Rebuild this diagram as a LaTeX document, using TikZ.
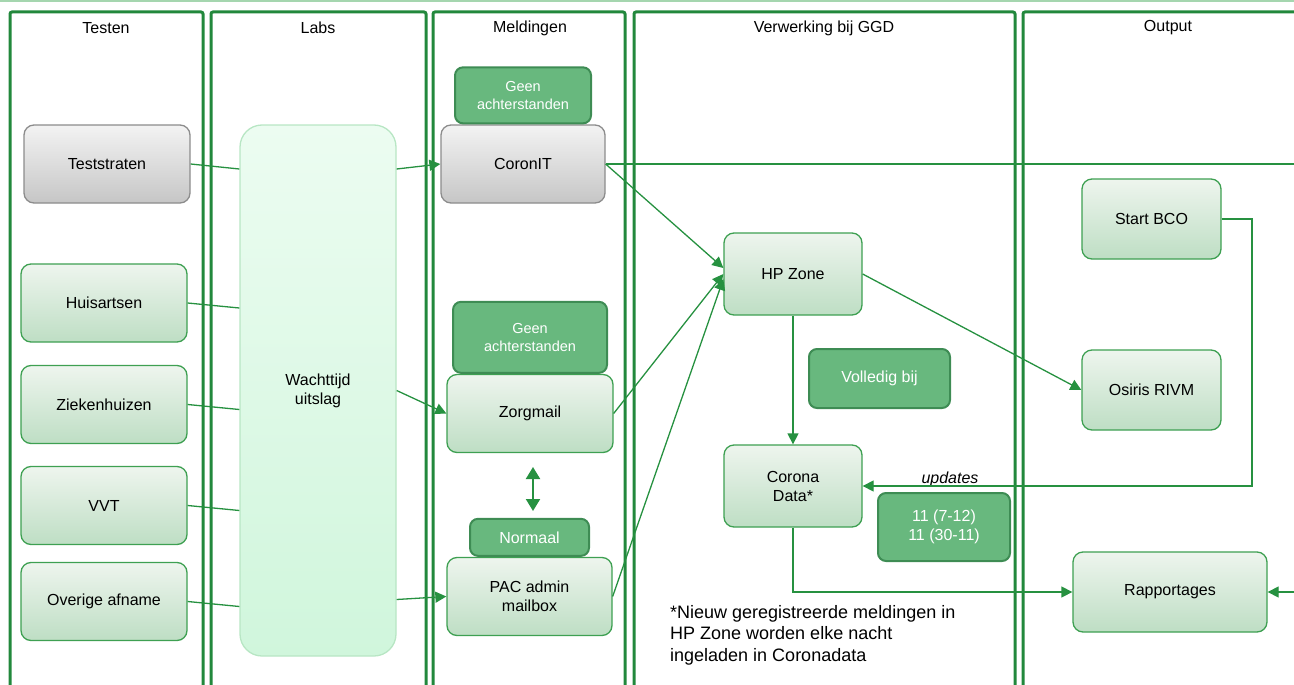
\documentclass[tikz,border=0pt]{standalone}
\usepackage{fontspec}
\setmainfont{Liberation Sans}
\usepackage{tikz}
\usetikzlibrary{positioning, calc, arrows.meta}
\definecolor{lanegreen}{RGB}{34,136,60}
\definecolor{linegreen}{RGB}{38,145,64}
\definecolor{boxborder}{RGB}{62,160,82}
\definecolor{boxtop}{RGB}{238,245,238}
\definecolor{boxbottom}{RGB}{190,222,196}
\definecolor{graytop}{RGB}{243,243,243}
\definecolor{graybottom}{RGB}{198,198,198}
\definecolor{grayborder}{RGB}{140,140,140}
\definecolor{statusfill}{RGB}{104,184,126}
\definecolor{statusborder}{RGB}{62,140,84}
\definecolor{labtop}{RGB}{236,252,241}
\definecolor{labbottom}{RGB}{208,246,220}
\definecolor{labborder}{RGB}{184,230,196}
\definecolor{topline}{RGB}{165,214,175}

\begin{document}
\begin{tikzpicture}[
    x = 1pt, y = -1pt, align = center,
    font = \fontsize{16}{19}\selectfont,
    > = {Triangle[length = 11pt, width = 11pt]},
    lane/.style = {
      draw = lanegreen, line width = 3pt, rounded corners = 2pt
    },
    process/.style = {
      rectangle, rounded corners = 10pt, draw = boxborder, line width = 1.3pt,
      top color = boxtop, bottom color = boxbottom,
      minimum width = 166pt, minimum height = 78pt, inner sep = 2pt
    },
    system/.style = {
      process, draw = grayborder, top color = graytop, bottom color = graybottom
    },
    status/.style = {
      rectangle, rounded corners = 8pt, draw = statusborder, line width = 2pt,
      fill = statusfill, text = white, inner sep = 2pt
    },
    waiting/.style = {
      rectangle, rounded corners = 22pt, draw = labborder, line width = 1.3pt,
      top color = labtop, bottom color = labbottom,
      minimum width = 156pt, minimum height = 531pt
    },
    flow/.style = {
      draw = linegreen, line width = 1.3pt
    },
    path/.style = {
      flow, arrows = ->
    },
    ]

    \useasboundingbox (0,0) rectangle (1294,685);
    \clip (0,0) rectangle (1294,685);

    % draw lanes
    \draw [topline, line width = 1.5pt] (0,1) -- (1294,1);
    \draw [lane] (10,12) rectangle (203,700);
    \draw [lane] (211,12) rectangle (426,700);
    \draw [lane] (433,12) rectangle (625,700);
    \draw [lane] (634,12) rectangle (1015,700);
    \draw [lane] (1023,12) rectangle (1320,700);

    \node (testen) at (106,28) {Testen};
    \node (labs) at (318,28) {Labs};
    \node (meldingen) at (530,28) {Meldingen};
    \node (verwerking) at (824,28) {Verwerking bij GGD};
    \node (output) at (1168,28) {Output};

    % draw test sources
    \node [system] (teststraten) at (107,164) {Teststraten};
    \foreach \name/\txt/\ypos in {huisartsen/Huisartsen/303, ziekenhuizen/Ziekenhuizen/404.5,
                                  vvt/VVT/505.5, overige/Overige afname/601.5}
    \node [process] (\name) at (104,\ypos) {\txt};

    % draw labs
    \node [waiting] (wacht) at (318,390.5) {Wachttijd\\uitslag};

    % draw meldingen
    \node [system, minimum width = 164pt] (coronit) at (523,164) {CoronIT};
    \node [process] (zorgmail) at (530,413.5) {Zorgmail};
    \node [process, minimum width = 165pt] (pac) at (529.5,596.5) {PAC admin\\mailbox};
    \node [status, minimum width = 136pt, minimum height = 56pt, font = \fontsize{14.5}{18}\selectfont]
      (geen1) [above = 0pt of coronit] {Geen\\achterstanden};
    \node [status, minimum width = 154pt, minimum height = 71pt, font = \fontsize{14.5}{18}\selectfont]
      (geen2) [above = 0pt of zorgmail] {Geen\\achterstanden};
    \node [status, minimum width = 119pt, minimum height = 37pt]
      (normaal) [above = 0pt of pac] {Normaal};
    \coordinate (dbltop) at (533,467);
    \coordinate (dblbot) at (533,511);

    % draw verwerking
    \node [process, minimum width = 138pt, minimum height = 82pt] (hpzone) at (793,274) {HP Zone};
    \node [process, minimum width = 138pt, minimum height = 82pt] (corona) at (793,486) {Corona\\Data*};
    \node [status, minimum width = 141pt, minimum height = 59pt] (volledig) at (879.5,378.5) {Volledig bij};
    \node [status, minimum width = 132pt, minimum height = 68pt] (aantal) at (944,527) {11 (7-12)\\11 (30-11)};
    \node [font = \fontsize{16}{19}\selectfont\itshape] (updates) at (950,479) {updates};
    \node [anchor = north west, align = left, inner sep = 0pt, font = \fontsize{18}{21.5}\selectfont]
      (noot) at (670,605) {*Nieuw geregistreerde meldingen in\\HP Zone worden elke nacht\\ingeladen in Coronadata};

    % draw output
    \node [process, minimum width = 139pt, minimum height = 80pt] (startbco) at (1151.5,219) {Start BCO};
    \node [process, minimum width = 139pt, minimum height = 80pt] (osiris) at (1151.5,390) {Osiris RIVM};
    \node [process, minimum width = 194pt, minimum height = 80pt] (rapportages) at (1170,592) {Rapportages};
    \coordinate (bcoturn) at (1252,219);
    \coordinate (coronitend) at (1320,164);
    \coordinate (rapin) at (1320,592);

    % draw paths from test sources to labs
    \foreach \name in {teststraten, huisartsen, ziekenhuizen, vvt, overige}
    \draw [flow] (\name.east) -- ($(\name.east -| wacht.west)+(0,5)$);

    % draw paths from labs to meldingen
    \draw [path] ($(wacht.east |- coronit.west)+(0,5)$) -- (coronit.west);
    \draw [path] (wacht.east) -- (zorgmail.west);
    \draw [path] ($(wacht.east |- pac.west)+(0,3)$) -- (pac.west);
    \draw [flow, arrows = <->, > = {Triangle[length = 12pt, width = 14pt]}, line width = 2pt] (dbltop) -- (dblbot);

    % draw paths to HP Zone
    \draw [path] (coronit.east) -- ([yshift = 6pt]hpzone.west);
    \draw [path] (zorgmail.east) -- (hpzone.west);
    \draw [path] (pac.east) -- ([yshift = -5pt]hpzone.west);
    \draw [flow] (coronit.east) -- (coronitend);

    % draw paths from HP Zone onwards
    \draw [path] (hpzone.south) -- (corona.north);
    \draw [path] (hpzone.east) -- (osiris.west);
    \draw [path] (startbco.east) -- (bcoturn) |- (corona.east);
    \draw [path] (corona.south) |- (rapportages.west);
    \draw [path] (rapin) -- (rapportages.east);

\end{tikzpicture}
\end{document}
